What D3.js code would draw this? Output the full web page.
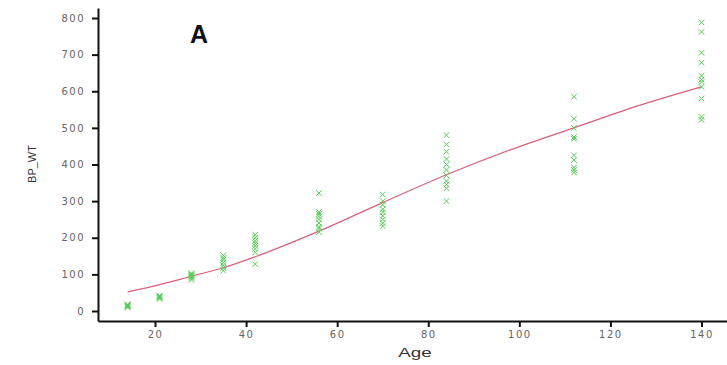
<!DOCTYPE html>
<html>
<head>
<meta charset="utf-8">
<script src="https://cdn.jsdelivr.net/npm/d3@7"></script>
<style>
  body { margin: 0; background: #fff; }
  svg { display: block; }
</style>
</head>
<body>
<div id="chart"></div>
<script>
// Observed groups (age in days) and BP_WT readings per group
const ages = [14, 21, 28, 35, 42, 56, 70, 84, 112, 140];
const bpValues = [
    [10, 12, 14, 15, 16, 18],
    [33, 36, 38, 40, 42],
    [85, 90, 93, 95, 98, 100, 103],
    [110, 118, 125, 132, 140, 145, 152],
    [128, 160, 170, 178, 185, 192, 200, 208],
    [215, 225, 230, 240, 250, 258, 265, 270, 322],
    [232, 240, 250, 260, 270, 278, 290, 300, 318],
    [300, 335, 345, 355, 370, 385, 400, 415, 435, 455, 480],
    [378, 385, 392, 412, 425, 470, 475, 500, 525, 585],
    [522, 530, 580, 612, 625, 632, 642, 678, 705, 762, 788]
];

// Fitted curve
const fitAges = [14, 21, 28, 35, 42, 56, 70, 84, 98, 112, 126, 140];
const fitValues = [52, 72, 95, 118, 148, 218, 296, 372, 440, 500, 560, 612];

const xTicks = [20, 40, 60, 80, 100, 120, 140];
const yTicks = [0, 100, 200, 300, 400, 500, 600, 700, 800];

const W = 727, H = 365;
const margin = { top: 8, right: 0, bottom: 44, left: 98 };
const width = W - margin.left - margin.right;
const height = H - margin.top - margin.bottom;

const svg = d3.select("#chart").append("svg")
    .attr("width", W)
    .attr("height", H);

const g = svg.append("g")
    .attr("transform", `translate(${margin.left},${margin.top})`);

const x = d3.scaleLinear().domain([7.48, 145.6]).range([0, width]);
const y = d3.scaleLinear().domain([-27.3, 827.3]).range([height, 0]);

// x axis
const xAxis = g.append("g")
    .attr("transform", `translate(0,${height})`)
    .call(d3.axisBottom(x).tickValues(xTicks).tickSize(6).tickSizeOuter(0).tickPadding(4));
xAxis.select(".domain").attr("stroke", "#111").attr("stroke-width", 2);
xAxis.selectAll(".tick line").attr("stroke", "#111").attr("stroke-width", 2);
xAxis.selectAll("text")
    .attr("fill", "#666")
    .style("font-family", "'DejaVu Sans', sans-serif")
    .style("font-size", "10px")
    .style("letter-spacing", "1.5px");

// y axis
const yAxis = g.append("g")
    .call(d3.axisLeft(y).tickValues(yTicks).tickSize(6).tickSizeOuter(0).tickPadding(7));
yAxis.select(".domain").attr("stroke", "#111").attr("stroke-width", 2);
yAxis.selectAll(".tick line").attr("stroke", "#111").attr("stroke-width", 2);
yAxis.selectAll("text")
    .attr("fill", "#666")
    .style("font-family", "'DejaVu Sans', sans-serif")
    .style("font-size", "10px")
    .style("letter-spacing", "1.5px");

// fitted line
const line = d3.line()
    .x((d, i) => x(fitAges[i]))
    .y(d => y(d))
    .curve(d3.curveMonotoneX);

g.append("path")
    .datum(fitValues)
    .attr("fill", "none")
    .attr("stroke", "#d9607a")
    .attr("stroke-width", 1.2)
    .attr("d", line);

// points
const points = [];
ages.forEach((a, i) => bpValues[i].forEach(v => points.push({ age: a, bp: v })));

const sym = d3.symbol().type(d3.symbolX).size(22);
g.selectAll(".pt")
    .data(points)
    .enter().append("path")
    .attr("class", "pt")
    .attr("transform", d => `translate(${x(d.age)},${y(d.bp)})`)
    .attr("d", sym)
    .attr("fill", "none")
    .attr("stroke", "#55cc55")
    .attr("stroke-width", 1);

// axis titles
svg.append("text")
    .attr("transform", "translate(415,357) scale(1.45,1)")
    .attr("text-anchor", "middle")
    .attr("fill", "#333")
    .style("font-family", "'Liberation Sans', Arial, sans-serif")
    .style("font-size", "13px")
    .text("Age");

svg.append("text")
    .attr("transform", "translate(36,164) rotate(-90)")
    .attr("text-anchor", "middle")
    .attr("fill", "#333")
    .style("font-family", "'Liberation Sans', Arial, sans-serif")
    .style("font-size", "11px")
    .text("BP_WT");

// panel letter
svg.append("text")
    .attr("x", 199)
    .attr("y", 43)
    .attr("text-anchor", "middle")
    .attr("fill", "#111")
    .style("font-family", "'Liberation Sans', Arial, sans-serif")
    .style("font-weight", "bold")
    .style("font-size", "25px")
    .text("A");
</script>
</body>
</html>
